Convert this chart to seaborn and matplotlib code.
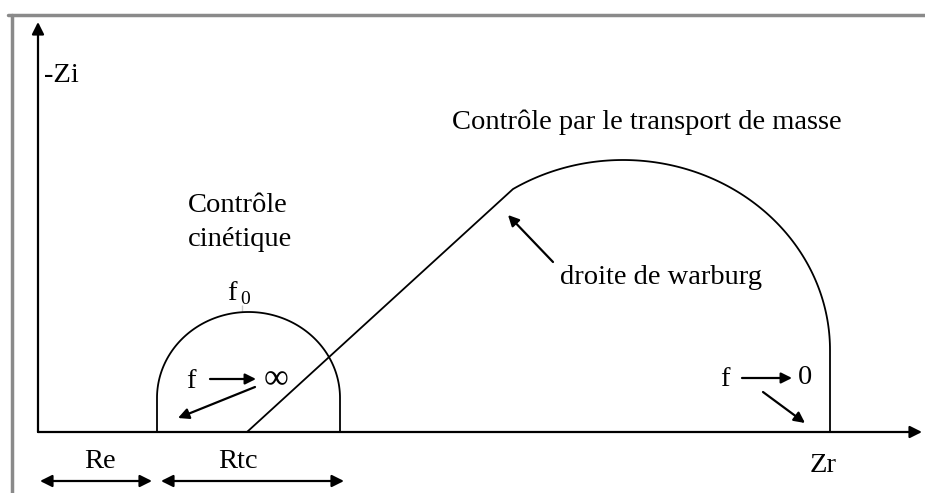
import numpy as np
import pandas as pd
import seaborn as sns
import matplotlib.pyplot as plt
from matplotlib.lines import Line2D

# Nyquist sketch, arbitrary units (about 10 px per unit)
re = 11.9            # electrolyte resistance
rtc = 18.3           # charge transfer resistance
kin_top = 12.0       # top of the kinetic loop (f0)
kin_shoulder = 3.4   # height where the loop sides stop being vertical
warburg_x = [20.9, 47.5]
warburg_y = [0.0, 24.5]
mass_center = 58.5
mass_rx = 20.7
mass_top = 27.2
mass_shoulder = 8.2
axis_x_max = 88.4
axis_y_max = 41.0

sns.set_theme(style='white')
plt.rcParams['font.family'] = ['Liberation Serif', 'DejaVu Serif']
fs = 20.5


def arch(cx, rx, base, top, t0, t1):
    t = np.linspace(t0, t1, 120)
    return cx + rx * np.cos(t), base + (top - base) * np.sin(t)


# kinetic loop: vertical sides + elliptic cap
kx, ky = arch(re + rtc / 2, rtc / 2, kin_shoulder, kin_top, np.pi, 0)
kin = pd.DataFrame({'x': np.r_[re, kx, re + rtc], 'y': np.r_[0, ky, 0]})

# warburg line then mass-transport loop
t0 = np.arccos((warburg_x[1] - mass_center) / mass_rx)
mx, my = arch(mass_center, mass_rx, mass_shoulder, mass_top, t0, 0)
mass = pd.DataFrame({'x': np.r_[warburg_x[0], mx, mass_center + mass_rx],
                     'y': np.r_[warburg_y[0], my, 0]})

fig = plt.figure(figsize=(9.25, 4.93), dpi=100)
ax = fig.add_axes([0, 0, 1, 1])
ax.set_xlim(-3.8, 88.7)
ax.set_ylim(-6.1, 43.2)
ax.axis('off')

sns.lineplot(data=kin, x='x', y='y', sort=False, estimator=None, color='black', lw=1.3, ax=ax)
sns.lineplot(data=mass, x='x', y='y', sort=False, estimator=None, color='black', lw=1.3, ax=ax)
# f0 tick
sns.lineplot(x=[re + rtc / 2 - 0.7] * 2, y=[kin_top, kin_top + 0.7], color='black', lw=1.3, ax=ax)

# axes with arrows
arr = dict(arrowstyle='-|>', color='black', lw=1.6, mutation_scale=18, shrinkA=0, shrinkB=0)
ax.annotate('', xy=(axis_x_max, 0), xytext=(0, 0), arrowprops=arr)
ax.annotate('', xy=(0, axis_y_max), xytext=(0, 0), arrowprops=arr)

small = dict(arrowstyle='-|>', color='black', lw=1.6, mutation_scale=16, shrinkA=0, shrinkB=0)
ax.annotate('', xy=(21.8, 5.3), xytext=(17.2, 5.3), arrowprops=small)
ax.annotate('', xy=(14.0, 1.4), xytext=(21.7, 4.5), arrowprops=small)
ax.annotate('', xy=(47.0, 21.7), xytext=(51.5, 17.0), arrowprops=small)
ax.annotate('', xy=(75.4, 5.4), xytext=(70.4, 5.4), arrowprops=small)
ax.annotate('', xy=(76.7, 0.9), xytext=(72.5, 4.0), arrowprops=small)

both = dict(arrowstyle='<|-|>', color='black', lw=1.6, mutation_scale=18, shrinkA=0, shrinkB=0)
ax.annotate('', xy=(0.2, -4.9), xytext=(re - 0.5, -4.9), arrowprops=both)
ax.annotate('', xy=(re + 0.4, -4.9), xytext=(re + rtc + 0.4, -4.9), arrowprops=both)

txt = dict(fontsize=fs, color='black', ha='center', va='center')
ax.text(0.6, 35.7, '-Zi', **{**txt, 'ha': 'left'})
ax.text(60.9, 31.0, 'Contrôle par le transport de masse', **txt)
ax.text(15.0, 22.7, 'Contrôle', **{**txt, 'ha': 'left'})
ax.text(15.0, 19.2, 'cinétique', **{**txt, 'ha': 'left'})
ax.text(19.4, 13.9, 'f', **txt)
ax.text(20.7, 13.3, '0', **{**txt, 'fontsize': 14})
ax.text(15.3, 5.1, 'f', **txt)
ax.text(23.8, 5.2, '∞', **{**txt, 'fontsize': 25})
ax.text(62.3, 15.4, 'droite de warburg', **txt)
ax.text(68.7, 5.3, 'f', **txt)
ax.text(76.7, 5.4, '0', **txt)
ax.text(78.5, -3.3, 'Zr', **txt)
ax.text(6.2, -3.0, 'Re', **txt)
ax.text(20.0, -3.0, 'Rtc', **txt)

# grey frame of the original figure
fig.add_artist(Line2D([8 / 925, 1], [1 - 15 / 493] * 2, color='#8a8a8a', lw=2.5))
fig.add_artist(Line2D([12 / 925] * 2, [0, 1 - 15 / 493], color='#8a8a8a', lw=2.5))

fig.savefig('out.png', dpi=100)
